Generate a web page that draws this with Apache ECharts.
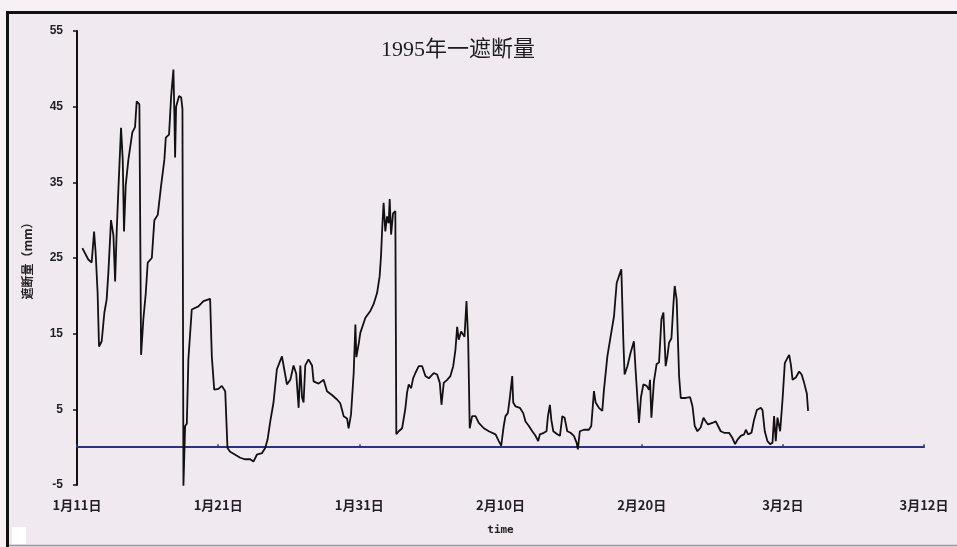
<!DOCTYPE html>
<html>
<head>
<meta charset="utf-8">
<title>1995年一遮断量</title>
<script src="https://cdn.jsdelivr.net/npm/echarts@6/dist/echarts.min.js"></script>
<style>
html, body { margin: 0; padding: 0; background: #f6f0f5; }
#chart { width: 957px; height: 547px; }
</style>
</head>
<body>
<div id="chart"></div>
<script>
// 横轴：自1月11日起的天数
var tickLabels = ['1月11日', '1月21日', '1月31日', '2月10日', '2月20日', '3月2日', '3月12日'];

var dayOffsets = [
	0.38, 0.80, 1.04, 1.21, 1.32, 1.46, 1.56, 1.75, 1.94, 2.10, 2.22, 2.41, 2.58, 2.70, 2.81, 2.93,
	3.12, 3.24, 3.33, 3.45, 3.64, 3.92, 4.11, 4.23, 4.42, 4.54, 4.70, 4.87, 5.01, 5.30, 5.48, 5.72,
	5.96, 6.19, 6.29, 6.52, 6.67, 6.83, 6.90, 6.95, 7.02, 7.23, 7.38, 7.47, 7.54, 7.66, 7.78, 7.89,
	8.13, 8.25, 8.60, 8.96, 9.43, 9.55, 9.72, 10.02, 10.26, 10.50, 10.66, 10.85, 11.21, 11.56, 11.91, 12.27,
	12.50, 12.74, 13.10, 13.33, 13.50, 13.69, 13.92, 14.16, 14.35, 14.52, 14.68, 14.87, 15.11, 15.34, 15.53, 15.70,
	15.82, 15.94, 16.05, 16.17, 16.40, 16.65, 16.76, 17.11, 17.47, 17.71, 18.06, 18.42, 18.65, 18.89, 19.13, 19.24,
	19.41, 19.60, 19.72, 19.79, 19.95, 20.07, 20.43, 20.78, 21.01, 21.26, 21.44, 21.54, 21.61, 21.72, 21.84, 21.96,
	22.08, 22.15, 22.25, 22.39, 22.55, 22.62, 22.79, 23.03, 23.26, 23.38, 23.50, 23.67, 23.81, 23.97, 24.21, 24.45,
	24.68, 24.92, 25.27, 25.51, 25.70, 25.82, 25.98, 26.22, 26.45, 26.65, 26.81, 26.93, 27.04, 27.21, 27.35, 27.45,
	27.59, 27.71, 27.82, 27.99, 28.23, 28.46, 28.82, 29.17, 29.65, 29.88, 30.05, 30.23, 30.35, 30.52, 30.66, 30.83,
	30.90, 31.06, 31.37, 31.61, 31.77, 32.01, 32.25, 32.48, 32.67, 32.79, 33.07, 33.26, 33.36, 33.50, 33.60, 33.74,
	34.02, 34.21, 34.38, 34.54, 34.73, 34.96, 35.20, 35.39, 35.48, 35.62, 35.91, 36.26, 36.43, 36.62, 36.74, 36.97,
	37.21, 37.33, 37.57, 37.80, 38.04, 38.23, 38.39, 38.56, 38.70, 38.79, 38.99, 39.22, 39.45, 39.57, 39.81, 39.95,
	40.12, 40.35, 40.52, 40.59, 40.69, 40.87, 41.06, 41.23, 41.40, 41.54, 41.70, 41.82, 41.94, 42.11, 42.25, 42.34,
	42.48, 42.65, 42.77, 43.12, 43.43, 43.60, 43.76, 43.95, 44.18, 44.38, 44.54, 44.70, 45.01, 45.25, 45.41, 45.60,
	45.84, 46.19, 46.43, 46.62, 46.79, 47.02, 47.26, 47.38, 47.54, 47.78, 47.96, 48.16, 48.44, 48.56, 48.72, 48.91,
	49.10, 49.27, 49.38, 49.50, 49.62, 49.81, 49.98, 50.14, 50.33, 50.45, 50.57, 50.69, 50.92, 51.16, 51.33, 51.51,
	51.70, 51.79
];

// 遮断量 (mm)
var interception = [
	26.3, 24.8, 24.4, 28.5, 25.7, 20.4, 13.3, 14.0, 17.8, 19.5, 23.0, 30.0, 28.0, 21.9, 28.4, 34.0,
	42.2, 38.0, 28.5, 34.6, 38.0, 41.6, 42.3, 45.7, 45.3, 12.2, 16.9, 20.3, 24.4, 25.0, 30.0, 30.7,
	34.6, 38.0, 40.9, 41.3, 46.4, 49.9, 43.7, 38.3, 45.0, 46.4, 46.2, 44.7, -5.1, 2.8, 3.1, 11.6,
	18.2, 18.4, 18.6, 19.3, 19.6, 12.0, 7.6, 7.7, 8.1, 7.4, -0.1, -0.6, -1.0, -1.4, -1.6, -1.6,
	-1.9, -1.0, -0.8, -0.1, 1.0, 3.4, 5.9, 10.3, 11.2, 12.0, 10.3, 8.3, 8.9, 10.8, 9.7, 5.2,
	10.8, 6.6, 5.9, 10.8, 11.6, 10.8, 8.7, 8.4, 8.9, 7.4, 6.9, 6.3, 5.8, 4.1, 3.8, 2.5,
	4.3, 9.8, 16.2, 11.9, 13.6, 15.1, 17.1, 18.0, 18.9, 20.4, 22.6, 25.4, 28.5, 32.3, 28.5, 30.5,
	29.6, 32.8, 28.1, 30.9, 31.2, 1.7, 2.1, 2.5, 5.1, 7.2, 8.3, 7.8, 9.1, 9.8, 10.7, 10.7,
	9.4, 9.1, 9.8, 9.6, 8.5, 5.6, 8.5, 8.9, 9.4, 10.7, 12.9, 15.9, 14.2, 15.3, 15.1, 14.6,
	19.3, 14.2, 2.5, 4.1, 4.1, 3.2, 2.5, 2.1, 1.7, 0.8, 0.2, 2.8, 4.1, 4.5, 6.5, 9.4,
	5.9, 5.4, 5.2, 4.5, 3.4, 2.8, 2.1, 1.5, 0.8, 1.7, 1.9, 2.1, 4.1, 5.6, 3.6, 2.1,
	1.7, 1.5, 4.1, 3.9, 2.1, 1.9, 1.5, 0.6, -0.3, 2.1, 2.3, 2.3, 2.8, 7.4, 5.9, 5.2,
	4.8, 7.6, 12.0, 14.6, 17.3, 21.7, 22.6, 23.5, 14.2, 9.6, 10.7, 12.5, 14.0, 10.2, 3.2, 6.6,
	8.3, 8.1, 7.6, 8.9, 3.9, 8.7, 11.0, 11.2, 16.9, 17.8, 10.7, 12.0, 13.8, 14.4, 18.9, 21.3,
	19.5, 9.4, 6.5, 6.5, 6.6, 5.4, 2.8, 2.1, 2.6, 3.9, 3.4, 3.0, 3.2, 3.4, 2.8, 2.1,
	1.9, 1.9, 1.2, 0.4, 1.0, 1.5, 1.7, 2.3, 1.7, 1.9, 3.6, 4.9, 5.2, 4.9, 2.1, 0.8,
	0.4, 0.6, 4.1, 0.8, 3.9, 2.1, 6.3, 11.1, 11.8, 12.2, 10.9, 8.9, 9.2, 10.0, 9.6, 8.5,
	7.1, 4.8
];

var chart = echarts.init(document.getElementById('chart'));

var seriesData = [];
for (var i = 0; i < dayOffsets.length; i++) {
	seriesData.push([dayOffsets[i], interception[i]]);
}

var labelFont = 'Noto Sans CJK SC';

chart.setOption({
	backgroundColor: '#f0e9f0',
	animation: false,
	title: {
		text: '1995年一遮断量',
		left: 376,
		top: 34,
		textStyle: {
			fontFamily: 'Liberation Serif, Noto Sans CJK SC',
			fontSize: 22,
			fontWeight: 'normal',
			color: '#1c1c24'
		}
	},
	grid: {
		left: 77,
		right: 33,
		top: 31,
		bottom: 62,
		containLabel: false,
		outerBoundsMode: 'none'
	},
	xAxis: {
		type: 'value',
		min: 0,
		max: 60,
		interval: 10,
		name: 'time',
		nameLocation: 'middle',
		nameGap: 40,
		nameTextStyle: {
			fontFamily: 'DejaVu Sans Mono',
			fontSize: 11,
			fontWeight: 'bold',
			color: '#222'
		},
		axisLine: {
			onZero: true,
			lineStyle: { color: '#26367a', width: 2 }
		},
		axisTick: {
			inside: true,
			length: 3,
			lineStyle: { color: '#26367a', width: 1.5 }
		},
		axisLabel: {
			margin: 14,
			fontFamily: labelFont,
			fontSize: 13,
			fontWeight: 'bold',
			color: '#1e1e28',
			formatter: function (v) {
				return tickLabels[Math.round(v / 10)];
			}
		},
		splitLine: { show: false }
	},
	yAxis: {
		type: 'value',
		min: -5,
		max: 55,
		interval: 10,
		name: '遮断量（mm）',
		nameLocation: 'middle',
		nameGap: 44,
		nameTextStyle: {
			fontFamily: labelFont,
			fontSize: 12,
			fontWeight: 'bold',
			color: '#222'
		},
		axisLine: {
			show: true,
			lineStyle: { color: '#111', width: 2 }
		},
		axisTick: {
			show: true,
			length: 4,
			lineStyle: { color: '#111', width: 1.5 }
		},
		axisLabel: {
			margin: 14,
			fontFamily: 'Liberation Sans Narrow, Liberation Sans',
			fontSize: 12,
			fontWeight: 'bold',
			color: '#1e1e28'
		},
		splitLine: { show: false }
	},
	series: [{
		type: 'line',
		data: seriesData,
		showSymbol: false,
		symbol: 'none',
		lineStyle: { color: '#111', width: 1.8 },
		z: 3
	}],
	graphic: [
		// 外框
		{ type: 'rect', shape: { x: 0, y: 0, width: 957, height: 11 }, style: { fill: '#f7f1f6' }, silent: true },
		{ type: 'rect', shape: { x: 0, y: 0, width: 6, height: 547 }, style: { fill: '#f7f1f6' }, silent: true },
		{ type: 'line', shape: { x1: 6, y1: 12.5, x2: 957, y2: 12.5 }, style: { stroke: '#111', lineWidth: 3 }, silent: true },
		{ type: 'line', shape: { x1: 7.5, y1: 11, x2: 7.5, y2: 547 }, style: { stroke: '#111', lineWidth: 3 }, silent: true },
		{ type: 'line', shape: { x1: 9, y1: 545.5, x2: 957, y2: 545.5 }, style: { stroke: '#9a96a0', lineWidth: 1.5 }, silent: true },
		{ type: 'rect', shape: { x: 12, y: 527, width: 14, height: 17 }, style: { fill: '#ffffff' }, silent: true }
	]
});

window.onresize = function () {
	chart.resize();
};
</script>
</body>
</html>
